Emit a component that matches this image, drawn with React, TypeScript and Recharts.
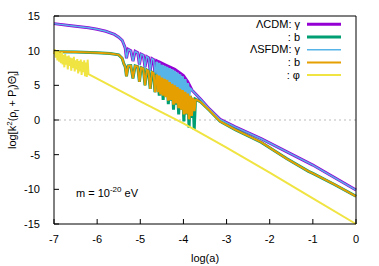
import { ComposedChart, Line, XAxis, YAxis, ReferenceLine } from 'recharts'

const xTicks = [-7, -6, -5, -4, -3, -2, -1, 0]
const yTicks = [-15, -10, -5, 0, 5, 10, 15]

// log(a), log[k^2(rho+P)Theta]
const cdmGamma = [
  [-7, 13.9], [-6.6, 13.6], [-6.2, 13.3], [-6, 13.1], [-5.8, 12.8], [-5.6, 12.35], [-5.5, 11.95],
  [-5.42, 11.5], [-5.38, 10.9], [-5.35, 10.4], [-5.32, 8.9], [-5.28, 10.2], [-5.22, 10.0],
  [-5.17, 8.5], [-5.12, 9.9], [-5.06, 9.7], [-5.02, 8.0], [-4.98, 9.5], [-4.93, 9.35],
  [-4.89, 7.6], [-4.85, 9.15], [-4.81, 9.0], [-4.77, 7.1], [-4.73, 8.85], [-4.69, 8.7],
  [-4.66, 6.7], [-4.62, 8.55], [-4.59, 8.45], [-4.56, 6.2], [-4.53, 8.3], [-4.4, 7.9],
  [-4.2, 7.3], [-4.0, 6.4], [-3.9, 5.5], [-3.8, 4.3], [-3.6, 3.0], [-3.4, 1.6], [-3.15, 0.1],
  [-2.8, -1.0], [-2.2, -2.7], [-1.6, -4.6], [-1, -6.5], [-0.5, -8.3], [0, -10.1],
]

const cdmBaryon = [
  [-7, 9.85], [-6.5, 9.8], [-6, 9.7], [-5.7, 9.6], [-5.5, 9.4], [-5.42, 8.9], [-5.38, 8.1],
  [-5.35, 7.7], [-5.32, 6.3], [-5.28, 7.8], [-5.22, 7.85], [-5.17, 6.0], [-5.12, 7.8],
  [-5.06, 7.7], [-5.02, 5.5], [-4.98, 7.55], [-4.93, 7.4], [-4.89, 5.0], [-4.85, 7.2],
  [-4.81, 7.05], [-4.77, 4.5], [-4.73, 6.9], [-4.69, 6.75], [-4.66, 4.0], [-4.62, 6.55],
  [-4.59, 6.4], [-4.56, 3.5], [-4.53, 6.25],
  [-4.5, 6.1], [-4.47, 2.9], [-4.44, 5.95], [-4.41, 3.4], [-4.38, 5.8], [-4.35, 2.3],
  [-4.32, 5.45], [-4.29, 2.8], [-4.26, 5.2], [-4.23, 1.5], [-4.2, 5.0], [-4.17, 2.2],
  [-4.14, 4.75], [-4.11, 0.8], [-4.08, 4.5], [-4.05, 1.5], [-4.02, 4.3], [-3.99, -0.2],
  [-3.96, 4.05], [-3.93, 0.8], [-3.9, 3.8], [-3.87, -1.1], [-3.84, 3.5], [-3.81, 0.3],
  [-3.78, 3.2], [-3.75, -1.4], [-3.72, 3.0],
  [-3.6, 2.6], [-3.4, 1.4], [-3.15, -0.2], [-2.8, -1.4], [-2.2, -3.2], [-1.6, -5.6],
  [-1.1, -7.4], [-1, -7.7], [-0.5, -9.3], [0, -11.0],
]

// SFDM photons: smooth parts, then the fast acoustic oscillations
const sfdmGamma = [
  [-7, 13.9], [-6.6, 13.6], [-6.2, 13.3], [-6, 13.1], [-5.8, 12.8], [-5.6, 12.35], [-5.5, 11.95],
  [-5.42, 11.5], [-5.38, 10.9], [-5.35, 10.4], [-5.32, 8.9], [-5.28, 10.2], [-5.22, 10.0],
  [-5.17, 8.5], [-5.12, 9.9], [-5.06, 9.7], [-5.02, 8.0], [-4.98, 9.5], [-4.93, 9.35],
  [-4.89, 7.6], [-4.85, 9.15], [-4.81, 9.0], [-4.77, 7.1], [-4.73, 8.85], [-4.69, 8.7],
  [-4.66, 6.7], [-4.62, 8.4],
]
const sfdmGammaOsc = [
  [-4.62, 8.4], [-4.59, 5.9], [-4.56, 8.25], [-4.53, 5.7], [-4.5, 7.95], [-4.47, 5.4],
  [-4.44, 7.8], [-4.41, 5.2], [-4.38, 7.65], [-4.35, 5.0], [-4.32, 7.5], [-4.29, 4.8],
  [-4.26, 7.3], [-4.23, 4.6], [-4.2, 7.1], [-4.17, 4.4], [-4.14, 6.85], [-4.11, 4.2],
  [-4.08, 6.6], [-4.05, 4.0], [-4.02, 6.3], [-3.99, 3.8], [-3.96, 5.9], [-3.93, 3.6],
  [-3.9, 5.3], [-3.87, 3.5], [-3.84, 4.5], [-3.8, 4.3],
]
const sfdmGammaLate = [
  [-3.8, 4.3], [-3.6, 3.0], [-3.4, 1.6], [-3.15, 0.1], [-2.8, -1.0], [-2.2, -2.7],
  [-1.6, -4.6], [-1, -6.5], [-0.5, -8.3], [0, -10.1],
]

const sfdmBaryon = [
  [-7, 9.85], [-6.5, 9.8], [-6, 9.7], [-5.7, 9.6], [-5.5, 9.4], [-5.42, 8.9], [-5.38, 8.1],
  [-5.35, 7.7], [-5.32, 6.3], [-5.28, 7.8], [-5.22, 7.85], [-5.17, 6.0], [-5.12, 7.8],
  [-5.06, 7.7], [-5.02, 5.5], [-4.98, 7.55], [-4.93, 7.4], [-4.89, 5.0], [-4.85, 7.2],
  [-4.81, 7.05], [-4.77, 4.5], [-4.73, 6.9], [-4.69, 6.75], [-4.66, 4.0], [-4.62, 6.55],
]
const sfdmBaryonOsc = [
  [-4.62, 6.55], [-4.59, 4.0], [-4.56, 6.4], [-4.53, 3.7], [-4.5, 6.1], [-4.47, 3.5],
  [-4.44, 5.95], [-4.41, 3.3], [-4.38, 5.8], [-4.35, 2.8], [-4.32, 5.45], [-4.29, 2.9],
  [-4.26, 5.2], [-4.23, 2.2], [-4.2, 5.0], [-4.17, 2.4], [-4.14, 4.75], [-4.11, 1.7],
  [-4.08, 4.5], [-4.05, 1.5], [-4.02, 4.3], [-3.99, 0.8], [-3.96, 4.05], [-3.93, 0.9],
  [-3.9, 3.8], [-3.87, 0.1], [-3.84, 3.5], [-3.81, 0.6], [-3.78, 3.2], [-3.75, 1.3],
  [-3.72, 3.0],
]
const sfdmBaryonLate = [
  [-3.72, 3.0], [-3.6, 2.6], [-3.4, 1.4], [-3.15, -0.2], [-2.8, -1.4], [-2.2, -3.2],
  [-1.6, -5.6], [-1.1, -7.4], [-1, -7.7], [-0.5, -9.3], [0, -11.0],
]

const scalarField = [
  [-7, 9.5], [-6.98, 10.2], [-6.96, 9.0], [-6.94, 10.1], [-6.92, 8.6], [-6.9, 9.9], [-6.88, 8.4],
  [-6.86, 9.7], [-6.84, 8.2], [-6.82, 9.8], [-6.8, 8.0], [-6.78, 9.4], [-6.76, 7.6], [-6.74, 9.5],
  [-6.72, 8.0], [-6.7, 9.2], [-6.68, 7.3], [-6.66, 9.3], [-6.64, 7.8], [-6.62, 9.0], [-6.6, 7.1],
  [-6.58, 8.9], [-6.56, 7.5], [-6.54, 9.1], [-6.52, 7.0], [-6.5, 8.6], [-6.48, 7.3], [-6.46, 8.8],
  [-6.44, 6.7], [-6.42, 8.5], [-6.4, 7.0], [-6.38, 8.7], [-6.36, 6.5], [-6.34, 8.4], [-6.32, 6.9],
  [-6.3, 8.6], [-6.28, 6.3], [-6.26, 8.3], [-6.24, 6.2], [-6.22, 8.7], [-6.2, 6.6],
  [-5, 2.7], [-4, -0.5], [-3, -4.0], [-2, -7.6], [-1, -11.3], [0, -15],
]

const toPoints = (rows: number[][]) => rows.map(([x, y]) => ({ x, y }))

const series = [
  { name: 'ΛCDM: γ', color: '#9400d3', width: 3, parts: [[cdmGamma, 3]] },
  { name: ': b', color: '#009e73', width: 3, parts: [[cdmBaryon, 3]] },
  { name: 'ΛSFDM: γ', color: '#56b4e9', width: 1.5, parts: [[sfdmGamma, 1.5], [sfdmGammaOsc, 2.6], [sfdmGammaLate, 1.5]] },
  { name: ': b', color: '#e69f00', width: 2, parts: [[sfdmBaryon, 2], [sfdmBaryonOsc, 2.6], [sfdmBaryonLate, 2]] },
  { name: ': φ', color: '#f0e442', width: 2, parts: [[scalarField, 2]] },
] as const

const font = '"Liberation Sans", Arial, sans-serif'
const tickStyle = { fill: '#000', fontSize: 11, fontFamily: font }

export default function App() {
  return (
    <div style={{ position: 'absolute', left: 0, top: 0, width: 379, height: 266, background: '#fff' }}>
      <ComposedChart width={379} height={266} margin={{ top: 0, right: 0, bottom: 0, left: 0 }}>
        <XAxis dataKey="x" type="number" domain={[-7, 0]} ticks={xTicks} height={42}
          tickSize={-5} tickMargin={16} tick={tickStyle} stroke="#000" tickLine={{ stroke: '#000' }} />
        <XAxis xAxisId="top" orientation="top" type="number" domain={[-7, 0]} ticks={xTicks} height={16}
          tickSize={-5} tick={false} stroke="#000" tickLine={{ stroke: '#000' }} />
        <YAxis type="number" domain={[-15, 15]} ticks={yTicks} width={54}
          tickSize={-5} tickMargin={19} tick={tickStyle} stroke="#000" tickLine={{ stroke: '#000' }} />
        <YAxis yAxisId="right" orientation="right" type="number" domain={[-15, 15]} ticks={yTicks} width={23}
          tickSize={-5} tick={false} stroke="#000" tickLine={{ stroke: '#000' }} />
        <ReferenceLine y={0} stroke="#bbbbbb" strokeDasharray="2 3" />
        {series.flatMap((s, i) =>
          s.parts.map(([rows, w], j) => (
            <Line key={`${i}-${j}`} data={toPoints(rows as number[][])} dataKey="y" type="linear" stroke={s.color}
              strokeWidth={w as number} dot={false} activeDot={false} isAnimationActive={false} />
          )),
        )}
      </ComposedChart>
      <svg width={379} height={266} style={{ position: 'absolute', left: 0, top: 0, pointerEvents: 'none' }}
        fontFamily={font} fontSize={11}>
        <text transform="rotate(-90)" x={-110} y={16} textAnchor="middle">
          log[k<tspan dy={-4} fontSize={8}>2</tspan>
          <tspan dy={4}>(ρ</tspan><tspan dy={3} fontSize={8}>l</tspan>
          <tspan dy={-3}> + P</tspan><tspan dy={3} fontSize={8}>l</tspan>
          <tspan dy={-3}>)Θ</tspan><tspan dy={3} fontSize={8}>l</tspan>
          <tspan dy={-3}>]</tspan>
        </text>
        <text x={205} y={262} textAnchor="middle">log(a)</text>
        <text x={76} y={197}>
          m = 10<tspan dy={-5} fontSize={8}>-20</tspan><tspan dy={5}> eV</tspan>
        </text>
        {series.map((s, i) => (
          <g key={i}>
            <text x={300} y={28 + i * 12.7} textAnchor="end">{s.name}</text>
            <line x1={307} x2={341} y1={24.3 + i * 12.7} y2={24.3 + i * 12.7} stroke={s.color} strokeWidth={s.width} />
          </g>
        ))}
      </svg>
    </div>
  )
}
